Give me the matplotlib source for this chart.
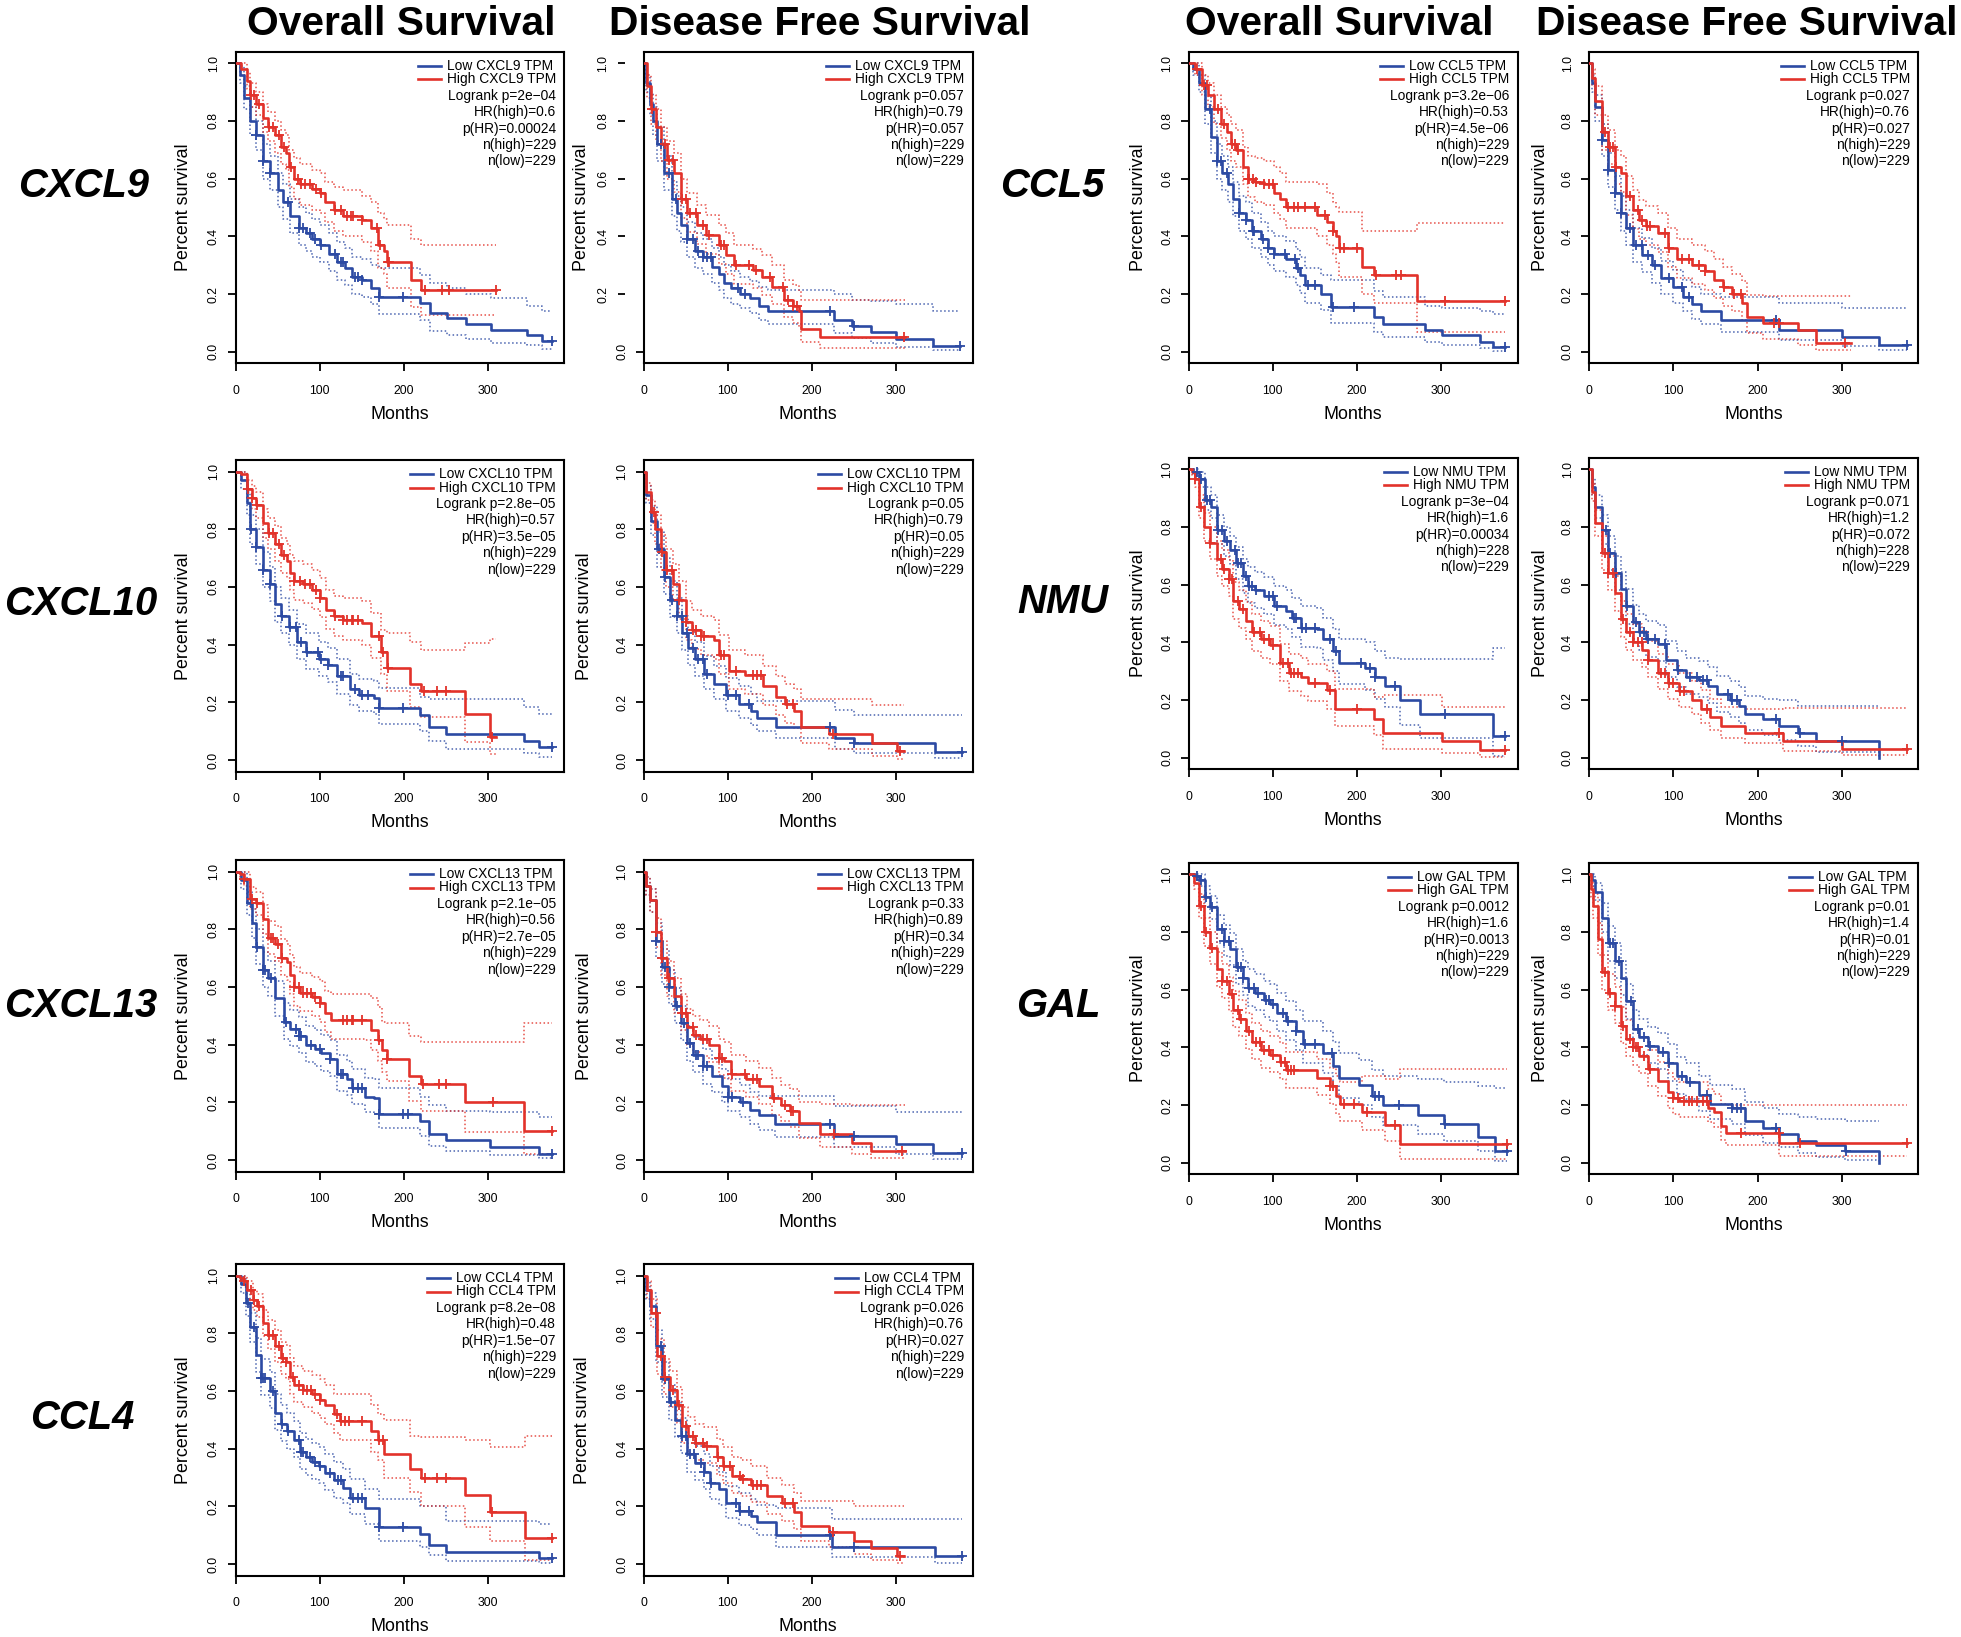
import numpy as np
import matplotlib
matplotlib.use('Agg')
import matplotlib.pyplot as plt
from matplotlib.transforms import ScaledTranslation, blended_transform_factory

plt.rcParams['font.family'] = ['Liberation Sans', 'DejaVu Sans']

# ---- curves: rows of (months, survival, lower CI, upper CI) ----
cxcl9_os_low = [(0,1.0,1.0,1.0),(5,.96,.93,.99),(10,.88,.84,.92),(17,.80,.75,.85),(24,.75,.70,.80),(33,.66,.60,.72),(41,.62,.56,.68),(50,.56,.50,.62),(56,.52,.46,.58),(65,.47,.41,.53),(75,.43,.37,.50),(84,.41,.35,.48),(91,.39,.33,.46),(100,.37,.31,.44),(111,.34,.28,.41),(121,.31,.25,.38),(130,.29,.23,.36),(139,.26,.20,.33),(150,.25,.19,.32),(161,.22,.165,.30),(170,.19,.13,.29),(219,.17,.11,.265),(231,.135,.073,.24),(251,.117,.058,.22),(274,.096,.044,.20),(304,.075,.03,.185),(346,.058,.022,.16),(364,.037,.01,.14),(376,.037,.01,.14)]
cxcl9_os_low_cens = [24,33,41,62,75,80,88,95,102,118,125,128,142,146,150,170,199,376]
cxcl9_os_high = [(0,1.0,1.0,1.0),(6,.98,.96,1.0),(13,.94,.91,.97),(17,.89,.85,.93),(24,.86,.82,.90),(32,.81,.76,.86),(39,.78,.73,.83),(47,.75,.69,.80),(54,.71,.65,.77),(60,.69,.63,.75),(63,.64,.57,.70),(69,.60,.53,.67),(76,.58,.51,.65),(91,.565,.49,.63),(100,.55,.48,.62),(106,.52,.45,.59),(117,.49,.42,.57),(128,.47,.40,.56),(150,.455,.38,.54),(161,.43,.35,.52),(169,.37,.29,.48),(176,.35,.27,.46),(180,.31,.22,.44),(208,.25,.156,.39),(220,.215,.126,.37),(310,.215,.126,.37)]
cxcl9_os_high_cens = [18,22,28,40,45,52,58,66,74,78,83,88,96,102,118,125,133,137,140,150,168,172,181,183,225,246,254,310]

cxcl9_dfs_low = [(0,1.0,1.0,1.0),(3,.93,.90,.96),(7,.86,.82,.90),(11,.80,.75,.85),(16,.72,.66,.78),(24,.62,.56,.68),(33,.53,.47,.59),(39,.48,.42,.54),(44,.44,.38,.50),(52,.39,.33,.45),(61,.35,.29,.41),(70,.33,.27,.39),(81,.295,.24,.36),(89,.27,.215,.33),(96,.24,.185,.30),(104,.22,.165,.28),(115,.20,.15,.26),(126,.185,.135,.245),(137,.16,.11,.225),(148,.14,.095,.215),(226,.11,.065,.20),(248,.09,.048,.18),(270,.067,.03,.175),(300,.045,.015,.165),(344,.02,.005,.14),(376,.02,.005,.14)]
cxcl9_dfs_low_cens = [20,30,38,52,58,64,70,75,80,112,120,222,250,376]
cxcl9_dfs_high = [(0,1.0,1.0,1.0),(4,.92,.88,.96),(9,.84,.79,.89),(14,.78,.73,.84),(21,.72,.66,.78),(28,.665,.60,.73),(36,.62,.555,.69),(44,.53,.465,.60),(52,.48,.415,.55),(63,.44,.375,.51),(74,.405,.34,.475),(89,.37,.305,.44),(98,.335,.27,.41),(107,.30,.235,.37),(130,.285,.22,.355),(141,.26,.195,.335),(152,.225,.165,.30),(167,.18,.12,.25),(178,.16,.10,.23),(185,.14,.085,.21),(187,.078,.035,.18),(209,.052,.012,.18),(311,.052,.012,.18)]
cxcl9_dfs_high_cens = [10,25,30,35,45,50,55,62,70,78,92,96,110,125,133,150,165,172,178,182,310]

ccl5_os_low = [(0,1.0,1.0,1.0),(5,.98,.96,1.0),(12,.93,.90,.96),(19,.84,.79,.89),(27,.745,.69,.80),(33,.66,.60,.72),(40,.62,.56,.68),(47,.58,.52,.64),(53,.53,.47,.59),(60,.48,.42,.54),(68,.455,.39,.52),(75,.42,.36,.48),(86,.39,.33,.45),(94,.36,.30,.42),(101,.34,.28,.40),(116,.32,.26,.385),(127,.29,.23,.355),(132,.265,.205,.33),(138,.23,.17,.29),(157,.20,.145,.265),(169,.155,.10,.25),(220,.12,.07,.21),(231,.096,.05,.19),(281,.075,.035,.16),(301,.058,.025,.15),(346,.035,.012,.14),(362,.017,.003,.13),(376,.017,.003,.13)]
ccl5_os_low_cens = [25,33,38,45,60,68,76,78,88,94,101,115,126,130,142,150,171,197,376]
ccl5_os_high = [(0,1.0,1.0,1.0),(8,.98,.96,1.0),(16,.925,.89,.96),(23,.89,.85,.93),(30,.84,.79,.89),(38,.79,.74,.85),(45,.76,.70,.82),(50,.72,.66,.79),(56,.70,.64,.77),(64,.64,.58,.71),(70,.60,.535,.68),(79,.59,.52,.67),(90,.58,.51,.66),(101,.55,.48,.64),(108,.53,.46,.62),(116,.50,.43,.59),(153,.475,.40,.58),(164,.45,.37,.55),(171,.42,.34,.52),(175,.40,.31,.50),(179,.36,.26,.485),(206,.295,.20,.42),(220,.265,.17,.42),(272,.176,.07,.445),(376,.176,.07,.445)]
ccl5_os_high_cens = [10,18,22,35,42,52,55,58,70,72,76,80,90,95,100,118,125,130,138,150,162,172,180,185,200,223,246,252,305,376]

ccl5_dfs_low = [(0,1.0,1.0,1.0),(3,.93,.90,.96),(7,.85,.80,.89),(15,.735,.68,.79),(22,.63,.57,.69),(30,.55,.49,.61),(37,.48,.42,.54),(44,.43,.37,.49),(52,.37,.31,.43),(63,.335,.275,.395),(74,.30,.24,.36),(85,.255,.20,.315),(100,.225,.17,.285),(111,.19,.14,.25),(122,.165,.115,.225),(133,.14,.095,.20),(156,.11,.07,.19),(226,.075,.04,.168),(300,.05,.02,.15),(344,.025,.005,.15),(378,.025,.005,.15)]
ccl5_dfs_low_cens = [15,22,30,38,48,55,62,70,78,95,110,118,222,378]
ccl5_dfs_high = [(0,1.0,1.0,1.0),(3,.95,.92,.98),(7,.87,.82,.92),(15,.76,.70,.82),(22,.71,.65,.77),(30,.64,.58,.70),(37,.62,.555,.68),(44,.54,.475,.61),(52,.49,.425,.56),(59,.455,.39,.525),(67,.435,.37,.505),(81,.41,.345,.48),(93,.36,.295,.43),(104,.32,.255,.39),(122,.30,.235,.37),(137,.28,.215,.35),(148,.25,.185,.32),(159,.225,.16,.295),(170,.20,.14,.27),(181,.17,.11,.245),(187,.12,.065,.195),(207,.098,.045,.194),(248,.075,.025,.194),(270,.031,.005,.194),(311,.031,.005,.194)]
ccl5_dfs_high_cens = [18,25,28,32,48,58,62,68,72,90,95,110,118,130,138,160,172,180,220,225,304]

cxcl10_os_low = [(0,1.0,1.0,1.0),(6,.97,.94,1.0),(13,.89,.85,.93),(17,.80,.75,.85),(24,.74,.68,.80),(32,.66,.60,.72),(41,.61,.55,.67),(47,.54,.48,.60),(54,.50,.44,.56),(63,.46,.40,.52),(73,.41,.35,.47),(84,.375,.315,.44),(99,.35,.29,.41),(110,.33,.27,.39),(121,.29,.23,.35),(136,.245,.19,.30),(147,.225,.17,.28),(165,.215,.16,.275),(170,.18,.125,.25),(219,.155,.10,.22),(230,.116,.065,.21),(250,.09,.04,.21),(343,.065,.025,.185),(361,.044,.01,.16),(376,.044,.01,.16)]
cxcl10_os_low_cens = [18,24,33,41,55,65,72,78,85,98,102,110,125,128,142,150,158,170,199,376]
cxcl10_os_high = [(0,1.0,1.0,1.0),(6,.99,.97,1.0),(13,.94,.91,.97),(19,.91,.87,.95),(24,.885,.84,.93),(32,.82,.77,.87),(39,.786,.73,.84),(47,.75,.69,.81),(54,.71,.65,.77),(61,.69,.63,.75),(65,.65,.59,.71),(69,.62,.555,.69),(80,.61,.545,.68),(91,.59,.525,.66),(100,.56,.495,.63),(107,.52,.455,.59),(117,.50,.43,.57),(128,.485,.415,.56),(150,.475,.40,.55),(161,.43,.355,.51),(173,.375,.30,.45),(180,.32,.24,.44),(207,.265,.185,.41),(221,.24,.15,.38),(273,.16,.064,.405),(302,.08,.02,.42),(310,.08,.02,.42)]
cxcl10_os_high_cens = [15,20,25,40,45,52,58,70,76,82,88,96,100,118,128,133,138,140,145,170,175,181,224,240,250,305]

cxcl10_dfs_low = [(0,1.0,1.0,1.0),(3,.92,.89,.95),(9,.83,.78,.88),(16,.73,.67,.79),(24,.635,.575,.70),(31,.555,.495,.62),(39,.50,.44,.56),(46,.44,.38,.50),(53,.39,.33,.45),(61,.35,.29,.41),(72,.30,.245,.36),(83,.265,.21,.325),(98,.225,.17,.285),(113,.195,.145,.255),(127,.17,.12,.23),(135,.145,.10,.205),(157,.116,.075,.205),(227,.075,.04,.175),(250,.058,.025,.155),(346,.029,.008,.155),(379,.029,.008,.155)]
cxcl10_dfs_low_cens = [18,25,33,40,45,52,58,65,70,75,100,110,125,222,250,379]
cxcl10_dfs_high = [(0,1.0,1.0,1.0),(3,.93,.90,.96),(9,.86,.82,.90),(13,.80,.75,.85),(20,.72,.66,.78),(27,.66,.60,.73),(35,.61,.55,.68),(42,.555,.49,.62),(50,.48,.415,.55),(57,.45,.385,.52),(68,.43,.365,.50),(83,.415,.35,.485),(90,.365,.30,.435),(101,.31,.245,.38),(120,.295,.23,.365),(142,.255,.19,.325),(157,.22,.155,.29),(168,.195,.13,.265),(179,.17,.11,.245),(187,.116,.06,.21),(220,.092,.04,.21),(272,.058,.015,.19),(301,.03,.003,.19),(309,.03,.003,.19)]
cxcl10_dfs_high_cens = [12,22,28,34,42,50,58,62,68,72,92,95,110,130,135,140,170,178,225,305]

nmu_os_low = [(0,1.0,1.0,1.0),(5,.99,.98,1.0),(12,.965,.94,.99),(19,.895,.86,.94),(27,.87,.83,.91),(34,.79,.74,.84),(42,.75,.70,.80),(49,.72,.67,.77),(56,.675,.62,.73),(65,.63,.57,.69),(71,.595,.535,.66),(79,.58,.52,.645),(90,.56,.50,.625),(101,.525,.46,.595),(116,.51,.445,.58),(123,.485,.42,.555),(134,.45,.385,.525),(153,.445,.38,.52),(160,.41,.34,.485),(171,.37,.30,.445),(179,.33,.255,.41),(209,.31,.235,.40),(221,.28,.205,.37),(233,.25,.175,.345),(251,.20,.115,.343),(275,.153,.07,.343),(362,.077,.005,.38),(376,.077,.005,.38)]
nmu_os_low_cens = [10,15,22,25,35,40,45,55,58,62,68,72,75,80,95,100,105,125,128,135,140,150,168,175,205,215,222,245,305,376]
nmu_os_high = [(0,1.0,1.0,1.0),(4,.99,.98,1.0),(8,.965,.94,.99),(12,.87,.83,.91),(18,.80,.75,.85),(25,.745,.69,.80),(33,.69,.63,.75),(40,.655,.595,.72),(48,.62,.56,.685),(53,.545,.48,.61),(60,.515,.45,.58),(68,.475,.41,.54),(75,.435,.37,.50),(86,.41,.345,.475),(97,.39,.325,.455),(108,.33,.265,.395),(119,.295,.23,.36),(134,.28,.215,.345),(142,.26,.195,.325),(164,.235,.17,.30),(174,.17,.11,.24),(220,.133,.08,.21),(231,.085,.03,.216),(301,.058,.015,.177),(346,.027,.003,.177),(376,.027,.003,.177)]
nmu_os_high_cens = [8,14,25,38,42,48,52,58,65,78,85,90,95,100,112,118,122,125,130,150,168,200,376]

nmu_dfs_low = [(0,1.0,1.0,1.0),(3,.94,.91,.97),(7,.87,.83,.91),(15,.79,.74,.84),(22,.71,.65,.77),(30,.64,.58,.70),(37,.585,.525,.645),(44,.525,.465,.585),(52,.47,.41,.53),(59,.435,.375,.50),(67,.41,.35,.475),(81,.395,.335,.46),(91,.34,.28,.405),(104,.305,.245,.37),(115,.28,.22,.345),(130,.27,.21,.335),(141,.25,.19,.315),(152,.22,.16,.285),(167,.20,.14,.265),(178,.18,.12,.245),(185,.15,.095,.215),(207,.133,.08,.205),(226,.11,.06,.20),(248,.087,.04,.18),(270,.058,.02,.18),(344,0.0,0.0,0.18)]
nmu_dfs_low_cens = [20,25,32,45,55,60,65,70,78,90,105,120,128,135,140,165,170,175,222,250,300]
nmu_dfs_high = [(0,1.0,1.0,1.0),(3,.92,.89,.95),(7,.815,.77,.86),(15,.71,.65,.77),(22,.64,.58,.70),(30,.57,.51,.63),(37,.48,.42,.545),(44,.435,.375,.50),(52,.40,.34,.465),(63,.375,.315,.44),(70,.34,.28,.405),(81,.295,.24,.36),(93,.26,.205,.325),(107,.23,.175,.295),(122,.20,.15,.265),(133,.17,.12,.235),(144,.14,.095,.205),(156,.11,.07,.175),(185,.087,.05,.17),(230,.058,.025,.173),(300,.029,.008,.173),(378,.029,.008,.173)]
nmu_dfs_high_cens = [18,22,28,40,48,52,58,62,70,85,90,95,100,108,112,140,225,378]

cxcl13_os_low = [(0,1.0,1.0,1.0),(6,.97,.94,1.0),(13,.89,.85,.93),(19,.82,.77,.87),(24,.74,.68,.80),(32,.66,.60,.72),(39,.63,.57,.69),(47,.56,.50,.62),(58,.48,.42,.545),(65,.455,.395,.52),(75,.43,.37,.495),(84,.40,.34,.465),(95,.385,.325,.45),(102,.37,.31,.435),(112,.35,.29,.415),(121,.30,.24,.365),(132,.28,.225,.345),(139,.25,.195,.315),(154,.22,.165,.285),(165,.215,.16,.28),(170,.16,.11,.25),(219,.135,.085,.22),(230,.09,.05,.19),(250,.068,.032,.17),(302,.046,.018,.165),(361,.022,.008,.15),(376,.022,.008,.15)]
cxcl13_os_low_cens = [18,25,33,35,42,60,72,75,78,90,100,112,125,128,140,145,150,170,199,205,376]
cxcl13_os_high = [(0,1.0,1.0,1.0),(5,.99,.98,1.0),(10,.975,.95,1.0),(17,.905,.87,.945),(24,.89,.85,.93),(32,.835,.785,.885),(39,.77,.715,.83),(47,.75,.69,.81),(54,.70,.64,.765),(61,.685,.625,.75),(65,.64,.575,.71),(69,.60,.535,.67),(76,.58,.515,.65),(91,.565,.50,.635),(100,.545,.48,.62),(106,.51,.445,.585),(113,.485,.42,.575),(154,.485,.415,.575),(161,.45,.38,.56),(169,.415,.345,.53),(174,.38,.305,.48),(180,.35,.275,.475),(206,.29,.205,.43),(221,.265,.17,.41),(273,.20,.097,.41),(343,.10,.02,.475),(376,.10,.02,.475)]
cxcl13_os_high_cens = [10,20,25,42,45,50,55,70,75,80,85,90,95,100,128,133,138,140,150,170,180,223,242,250,306,376]

cxcl13_dfs_low = [(0,1.0,1.0,1.0),(3,.95,.92,.98),(7,.90,.86,.94),(15,.76,.70,.82),(22,.67,.61,.73),(30,.60,.54,.66),(37,.535,.475,.595),(44,.475,.415,.535),(52,.405,.345,.465),(59,.365,.305,.425),(70,.325,.265,.385),(81,.29,.235,.35),(93,.255,.20,.315),(100,.22,.17,.28),(115,.20,.15,.26),(126,.175,.125,.235),(137,.155,.105,.222),(156,.124,.08,.222),(226,.084,.045,.188),(300,.054,.02,.167),(344,.026,.005,.167),(378,.026,.005,.167)]
cxcl13_dfs_low_cens = [15,25,30,40,48,55,62,65,70,75,100,105,118,222,250,378]
cxcl13_dfs_high = [(0,1.0,1.0,1.0),(3,.95,.92,.98),(7,.90,.86,.94),(15,.79,.74,.84),(21,.70,.64,.76),(28,.63,.57,.69),(36,.57,.51,.63),(44,.51,.45,.575),(52,.46,.40,.525),(59,.435,.375,.50),(67,.42,.36,.485),(78,.40,.34,.465),(89,.355,.295,.42),(96,.345,.285,.41),(104,.30,.24,.365),(122,.28,.22,.345),(137,.255,.195,.32),(152,.215,.155,.285),(163,.19,.135,.26),(174,.17,.115,.245),(185,.127,.075,.20),(209,.09,.045,.195),(248,.058,.02,.19),(270,.031,.008,.19),(311,.031,.008,.19)]
cxcl13_dfs_high_cens = [15,22,30,45,50,58,62,70,75,90,93,105,120,130,135,155,168,175,178,226,307]

gal_os_low = [(0,1.0,1.0,1.0),(8,.995,.985,1.0),(12,.98,.96,1.0),(19,.92,.89,.96),(25,.885,.845,.925),(33,.81,.76,.86),(42,.77,.715,.825),(49,.74,.685,.795),(56,.68,.62,.74),(65,.64,.58,.70),(71,.605,.545,.67),(79,.59,.53,.655),(90,.565,.505,.63),(97,.55,.49,.62),(105,.52,.455,.59),(116,.49,.425,.56),(127,.455,.39,.53),(136,.41,.345,.49),(160,.38,.31,.455),(171,.335,.265,.42),(179,.295,.225,.38),(203,.27,.20,.355),(218,.23,.16,.32),(231,.20,.13,.30),(273,.165,.10,.29),(303,.136,.075,.28),(344,.09,.04,.265),(364,.042,.006,.26),(379,.042,.006,.26)]
gal_os_low_cens = [10,15,20,28,40,42,48,58,62,65,72,78,82,92,95,100,112,118,128,138,150,170,222,226,250,305,379]
gal_os_high = [(0,1.0,1.0,1.0),(6,.97,.95,.99),(12,.89,.85,.93),(18,.80,.75,.85),(25,.745,.69,.80),(33,.67,.61,.73),(40,.63,.57,.69),(48,.585,.525,.645),(53,.53,.47,.595),(60,.50,.44,.565),(68,.455,.395,.52),(75,.42,.36,.485),(86,.39,.33,.455),(97,.375,.315,.44),(108,.35,.29,.415),(116,.32,.26,.385),(153,.295,.235,.36),(168,.265,.205,.33),(175,.23,.17,.30),(180,.205,.145,.28),(206,.175,.115,.30),(233,.13,.075,.29),(251,.064,.012,.324),(379,.064,.012,.324)]
gal_os_high_cens = [15,20,28,40,45,52,58,62,72,80,85,90,95,100,110,115,118,122,125,168,172,185,196,212,245,379]

gal_dfs_low = [(0,1.0,1.0,1.0),(3,.98,.96,1.0),(7,.94,.91,.97),(15,.85,.80,.90),(22,.76,.70,.82),(30,.70,.64,.76),(37,.64,.58,.70),(44,.56,.50,.62),(52,.465,.405,.53),(59,.435,.375,.50),(70,.405,.345,.47),(81,.385,.325,.45),(93,.345,.285,.41),(104,.30,.24,.365),(115,.28,.22,.345),(130,.235,.18,.30),(144,.205,.15,.27),(170,.19,.135,.255),(185,.145,.095,.21),(207,.12,.07,.19),(226,.10,.055,.17),(248,.075,.035,.16),(270,.06,.02,.15),(304,.04,.008,.145),(344,0.0,0.0,0.145)]
gal_dfs_low_cens = [25,28,35,50,58,65,72,88,95,110,120,140,170,175,180,222,305]
gal_dfs_high = [(0,1.0,1.0,1.0),(2,.95,.92,.98),(4,.89,.85,.93),(10,.775,.72,.83),(15,.66,.60,.72),(22,.59,.53,.655),(30,.545,.485,.61),(37,.475,.415,.54),(44,.43,.37,.495),(52,.40,.34,.465),(59,.37,.31,.435),(70,.325,.265,.39),(81,.285,.23,.35),(93,.245,.19,.31),(100,.225,.17,.29),(107,.215,.16,.28),(141,.19,.14,.255),(148,.175,.125,.24),(156,.127,.08,.205),(163,.102,.06,.20),(226,.067,.023,.20),(378,.067,.023,.20)]
gal_dfs_high_cens = [18,25,30,40,48,52,55,58,65,72,100,105,112,118,122,128,135,140,180,225,250,378]

ccl4_os_low = [(0,1.0,1.0,1.0),(6,.97,.94,1.0),(12,.905,.86,.95),(17,.82,.77,.87),(24,.725,.665,.785),(30,.645,.585,.71),(41,.60,.54,.665),(47,.525,.465,.59),(54,.485,.425,.55),(61,.46,.40,.525),(69,.43,.37,.495),(76,.39,.33,.455),(84,.37,.31,.435),(91,.355,.295,.42),(99,.34,.28,.405),(106,.315,.255,.38),(117,.29,.23,.355),(128,.265,.21,.33),(136,.23,.175,.295),(154,.195,.14,.26),(170,.127,.08,.227),(219,.104,.06,.20),(230,.066,.03,.20),(250,.043,.012,.15),(361,.02,.004,.14),(376,.02,.004,.14)]
ccl4_os_low_cens = [15,22,30,32,35,45,55,62,75,78,80,88,95,100,112,122,125,140,145,150,170,199,376]
ccl4_os_high = [(0,1.0,1.0,1.0),(5,.99,.98,1.0),(10,.98,.96,1.0),(13,.95,.92,.98),(21,.915,.88,.95),(26,.895,.855,.935),(32,.835,.79,.88),(39,.795,.745,.845),(47,.755,.70,.81),(54,.715,.66,.77),(60,.70,.64,.76),(65,.65,.59,.715),(69,.62,.56,.685),(80,.605,.545,.67),(91,.59,.525,.655),(100,.57,.505,.64),(106,.55,.485,.62),(117,.52,.455,.59),(124,.495,.43,.59),(161,.46,.39,.55),(169,.43,.36,.52),(176,.38,.30,.50),(207,.33,.25,.445),(221,.30,.20,.44),(273,.24,.13,.43),(302,.18,.08,.405),(344,.09,.015,.445),(376,.09,.015,.445)]
ccl4_os_high_cens = [10,18,22,28,40,45,52,56,60,68,75,80,85,90,95,100,120,125,130,135,150,170,175,225,240,250,305,376]

ccl4_dfs_low = [(0,1.0,1.0,1.0),(3,.95,.92,.98),(7,.895,.85,.94),(15,.755,.70,.81),(22,.64,.58,.70),(30,.56,.50,.62),(37,.50,.44,.56),(44,.445,.385,.505),(52,.38,.32,.44),(61,.35,.29,.41),(72,.32,.26,.38),(79,.28,.225,.34),(90,.26,.205,.32),(98,.21,.16,.27),(113,.185,.135,.245),(127,.165,.12,.225),(135,.145,.10,.205),(157,.10,.06,.193),(224,.058,.025,.156),(346,.029,.005,.156),(379,.029,.005,.156)]
ccl4_dfs_low_cens = [20,25,32,45,50,55,60,68,72,80,110,115,125,222,250,379]
ccl4_dfs_high = [(0,1.0,1.0,1.0),(4,.95,.92,.98),(9,.87,.82,.92),(16,.72,.66,.78),(24,.65,.59,.71),(31,.605,.545,.67),(39,.55,.49,.615),(46,.48,.42,.545),(53,.445,.385,.51),(61,.42,.36,.485),(72,.41,.35,.475),(87,.37,.31,.435),(94,.34,.28,.405),(105,.305,.245,.37),(116,.295,.235,.36),(127,.275,.215,.34),(146,.235,.175,.30),(164,.21,.15,.275),(179,.18,.12,.245),(187,.133,.08,.22),(220,.11,.06,.22),(250,.08,.035,.20),(270,.054,.015,.20),(301,.029,.003,.20),(309,.029,.003,.20)]
ccl4_dfs_high_cens = [15,20,25,35,42,50,58,62,70,75,88,95,102,115,118,130,135,140,168,178,225,305]

# ---- statistics: logrank p, HR(high), p(HR), n(high), n(low) ----
cxcl9_os_stats = ['2e\u221204', '0.6', '0.00024', 229, 229]
cxcl9_dfs_stats = ['0.057', '0.79', '0.057', 229, 229]
ccl5_os_stats = ['3.2e\u221206', '0.53', '4.5e\u221206', 229, 229]
ccl5_dfs_stats = ['0.027', '0.76', '0.027', 229, 229]
cxcl10_os_stats = ['2.8e\u221205', '0.57', '3.5e\u221205', 229, 229]
cxcl10_dfs_stats = ['0.05', '0.79', '0.05', 229, 229]
nmu_os_stats = ['3e\u221204', '1.6', '0.00034', 228, 229]
nmu_dfs_stats = ['0.071', '1.2', '0.072', 228, 229]
cxcl13_os_stats = ['2.1e\u221205', '0.56', '2.7e\u221205', 229, 229]
cxcl13_dfs_stats = ['0.33', '0.89', '0.34', 229, 229]
gal_os_stats = ['0.0012', '1.6', '0.0013', 229, 229]
gal_dfs_stats = ['0.01', '1.4', '0.01', 229, 229]
ccl4_os_stats = ['8.2e\u221208', '0.48', '1.5e\u221207', 229, 229]
ccl4_dfs_stats = ['0.026', '0.76', '0.027', 229, 229]

BLUE = '#2c4aa3'
RED = '#e2322a'
W, H = 1961, 1637
AX_W, AX_H = 328.8, 311.6

fig = plt.figure(figsize=(W / 100, H / 100), dpi=100)

# (gene, left px, top px, low, low censored, high, high censored, stats, ylabel distance)
panels = [
    ('CXCL9', 235.6, 51.7, cxcl9_os_low, cxcl9_os_low_cens, cxcl9_os_high, cxcl9_os_high_cens, cxcl9_os_stats, 51.6),
    ('CXCL9', 643.75, 51.7, cxcl9_dfs_low, cxcl9_dfs_low_cens, cxcl9_dfs_high, cxcl9_dfs_high_cens, cxcl9_dfs_stats, 62),
    ('CXCL10', 235.6, 460, cxcl10_os_low, cxcl10_os_low_cens, cxcl10_os_high, cxcl10_os_high_cens, cxcl10_os_stats, 51.6),
    ('CXCL10', 643.75, 460, cxcl10_dfs_low, cxcl10_dfs_low_cens, cxcl10_dfs_high, cxcl10_dfs_high_cens, cxcl10_dfs_stats, 59),
    ('CXCL13', 235.6, 860, cxcl13_os_low, cxcl13_os_low_cens, cxcl13_os_high, cxcl13_os_high_cens, cxcl13_os_stats, 51.6),
    ('CXCL13', 643.75, 860, cxcl13_dfs_low, cxcl13_dfs_low_cens, cxcl13_dfs_high, cxcl13_dfs_high_cens, cxcl13_dfs_stats, 59),
    ('CCL4', 235.6, 1264, ccl4_os_low, ccl4_os_low_cens, ccl4_os_high, ccl4_os_high_cens, ccl4_os_stats, 51.6),
    ('CCL4', 643.75, 1264, ccl4_dfs_low, ccl4_dfs_low_cens, ccl4_dfs_high, ccl4_dfs_high_cens, ccl4_dfs_stats, 61),
    ('CCL5', 1188.75, 51.7, ccl5_os_low, ccl5_os_low_cens, ccl5_os_high, ccl5_os_high_cens, ccl5_os_stats, 50),
    ('CCL5', 1589.4, 51.7, ccl5_dfs_low, ccl5_dfs_low_cens, ccl5_dfs_high, ccl5_dfs_high_cens, ccl5_dfs_stats, 49),
    ('NMU', 1188.75, 457.7, nmu_os_low, nmu_os_low_cens, nmu_os_high, nmu_os_high_cens, nmu_os_stats, 50),
    ('NMU', 1589.4, 457.7, nmu_dfs_low, nmu_dfs_low_cens, nmu_dfs_high, nmu_dfs_high_cens, nmu_dfs_stats, 49),
    ('GAL', 1188.75, 862.7, gal_os_low, gal_os_low_cens, gal_os_high, gal_os_high_cens, gal_os_stats, 50),
    ('GAL', 1589.4, 862.7, gal_dfs_low, gal_dfs_low_cens, gal_dfs_high, gal_dfs_high_cens, gal_dfs_stats, 49),
]

legend_items = []
for k, (gene, x0, y0, low, low_c, high, high_c, st, ylab) in enumerate(panels):
    ax = fig.add_axes([x0 / W, 1 - (y0 + AX_H) / H, AX_W / W, AX_H / H])
    curves = [(np.array(low, float).T, low_c, BLUE), (np.array(high, float).T, high_c, RED)]
    for (t, s, lo, hi), cens, col in curves:
        for band in (lo, hi):
            ax.step(t, band, where='post', color=col, lw=1.1, ls=(0, (1, 1.6)), alpha=0.85)
    for (t, s, lo, hi), cens, col in curves:
        ax.step(t, s, where='post', color=col, lw=1.9, zorder=3)
        c = np.array(cens, float)
        idx = np.searchsorted(t, c, side='right') - 1
        ax.plot(c, s[idx], ls='none', marker='+', ms=7.5, mew=1.3, color=col, zorder=4)

    ax.set_xlim(0, 391)
    ax.set_ylim(-0.04, 1.04)
    ax.set_xticks([0, 100, 200, 300])
    odd = (k == 1)  # first DFS panel: upper y ticks shifted off the frame
    yt = [0.0] if odd else [0.0, 0.2, 0.4, 0.6, 0.8, 1.0]
    ax.set_yticks(yt)
    ax.set_yticklabels([f'{v:.1f}' for v in yt], rotation=90, va='center')
    ax.tick_params(length=5.8, width=1.3, labelsize=8.8, direction='out')
    ax.tick_params(axis='x', pad=9.5)
    ax.tick_params(axis='y', pad=5.5)
    for sp in ax.spines.values():
        sp.set_linewidth(1.5)
    if odd:
        bt = blended_transform_factory(ax.transAxes, ax.transData)
        for v in [0.2, 0.4, 0.6, 0.8, 1.0]:
            ax.plot([-25.5 / AX_W, -18.7 / AX_W], [v, v], transform=bt, color='k',
                    lw=1.3, clip_on=False, solid_capstyle='butt')
            ax.text(-40.7 / AX_W, v, f'{v:.1f}', transform=bt, rotation=90,
                    ha='center', va='center', fontsize=8.8)

    ax.set_xlabel('Months', fontsize=12.9)
    ax.xaxis.set_label_coords(0.5, -51 / AX_H)
    ax.xaxis.label.set_va('center')
    ax.set_ylabel('Percent survival', fontsize=12.9)
    ax.yaxis.set_label_coords(-ylab / AX_W, 0.5)
    ax.yaxis.label.set_va('center')

    def off(dx, dy, ax=ax):
        return ax.transAxes + ScaledTranslation(dx / 100, dy / 100, fig.dpi_scale_trans)

    high_txt = ax.text(1, 1, f'High {gene} TPM', transform=off(-8.4, -27.5),
                       ha='right', va='center', fontsize=9.9)
    lines = [f'Logrank p={st[0]}', f'HR(high)={st[1]}', f'p(HR)={st[2]}',
             f'n(high)={st[3]}', f'n(low)={st[4]}']
    for i, line in enumerate(lines):
        ax.text(1, 1, line, transform=off(-8.4, -(44 + 16.4 * i)),
                ha='right', va='center', fontsize=9.9)
    legend_items.append((ax, gene, high_txt))

# low label and legend keys aligned with the left edge of the "High" label
fig.canvas.draw()
renderer = fig.canvas.get_renderer()
for ax, gene, high_txt in legend_items:
    bb = high_txt.get_window_extent(renderer)
    xa = ax.transAxes.inverted().transform((bb.x0, bb.y0))[0]
    ax.text(xa, 1, f'Low {gene} TPM', transform=ax.transAxes + ScaledTranslation(0, -0.14, fig.dpi_scale_trans),
            ha='left', va='center', fontsize=9.9)
    for dy, col in ((14, BLUE), (27.5, RED)):
        ax.plot([xa - 29 / AX_W, xa - 6 / AX_W], [1 - dy / AX_H] * 2, transform=ax.transAxes,
                color=col, lw=1.9, clip_on=False)

# column titles and gene labels
for x, title in ((401, 'Overall Survival'), (820, 'Disease Free Survival'),
                 (1339, 'Overall Survival'), (1747, 'Disease Free Survival')):
    fig.text(x / W, 1 - 35 / H, title, ha='center', va='baseline', fontsize=29.3, fontweight='bold')

for x, y, gene in ((84, 197, 'CXCL9'), (81, 615, 'CXCL10'), (81, 1017, 'CXCL13'), (82, 1429, 'CCL4'),
                   (1052, 197, 'CCL5'), (1063, 613, 'NMU'), (1058, 1017, 'GAL')):
    fig.text(x / W, 1 - y / H, gene, ha='center', va='baseline', fontsize=28.8,
             fontweight='bold', fontstyle='italic')

fig.savefig('out.png', dpi=100)
